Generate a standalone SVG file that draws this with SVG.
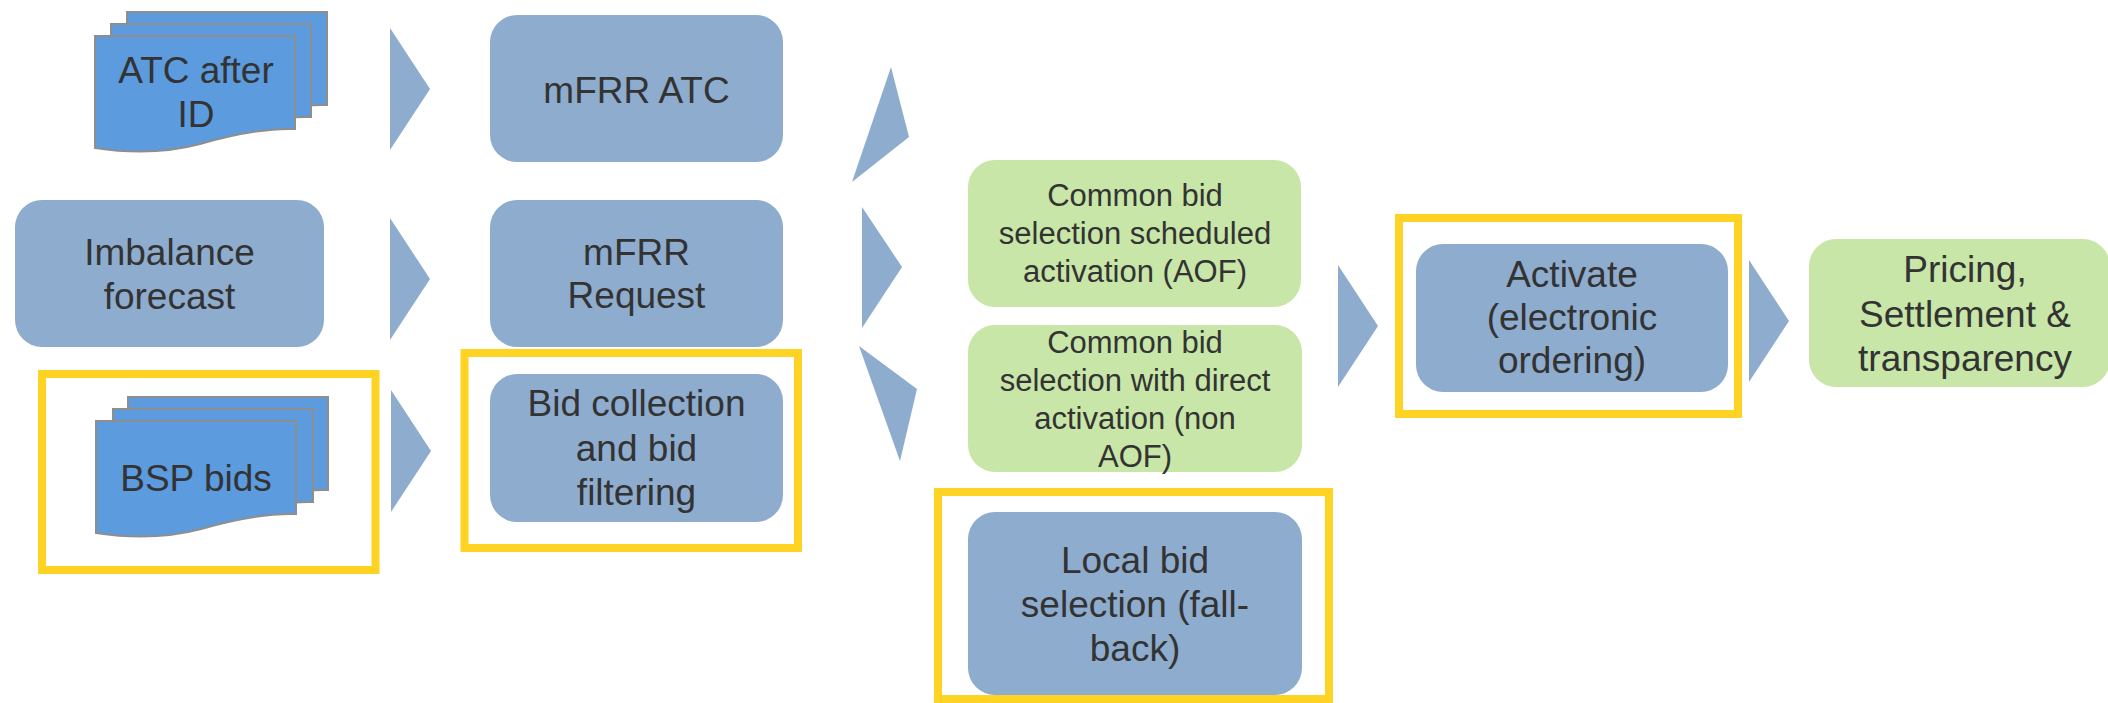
<svg xmlns="http://www.w3.org/2000/svg" width="2108" height="703" viewBox="0 0 2108 703">
<style>
.box{fill:#8EACCE}
.grn{fill:#C8E6A7}
.hl{fill:none;stroke:#FFD324;stroke-width:8}
.doc{fill:#5B9BDE;stroke:#8E8E8E;stroke-width:2}
.arr{fill:#8EACCE}
text{font-family:"Liberation Sans",Arial,sans-serif;fill:#333333;text-anchor:middle}
.t{font-size:37px}
.s{font-size:31px}
</style>
<defs>
<path id="docshape" d="M0,0 H200 V93 C170,92 140,98 105,108 C75,116 40,118 0,112 Z"/>
</defs>
<rect width="2108" height="703" fill="#FFFFFF"/>

<g id="highlights">
<rect class="hl" x="42" y="374" width="333.5" height="196"/>
<rect class="hl" x="464.5" y="353" width="333.5" height="195"/>
<rect class="hl" x="938" y="492" width="391" height="207"/>
<rect class="hl" x="1399" y="218" width="339" height="196"/>
</g>

<g id="atc-after-id">
<use href="#docshape" class="doc" x="127" y="12"/>
<use href="#docshape" class="doc" x="111" y="24"/>
<use href="#docshape" class="doc" x="95" y="36"/>
<text class="t" x="196" y="83">ATC after</text>
<text class="t" x="196" y="127">ID</text>
</g>

<g id="imbalance-forecast">
<rect class="box" x="15" y="200" width="309" height="147" rx="27"/>
<text class="t" x="169.5" y="265">Imbalance</text>
<text class="t" x="169.5" y="309">forecast</text>
</g>

<g id="bsp-bids">
<use href="#docshape" class="doc" x="128" y="397"/>
<use href="#docshape" class="doc" x="113" y="409"/>
<use href="#docshape" class="doc" x="96" y="421"/>
<text class="t" x="196" y="491">BSP bids</text>
</g>

<g id="mfrr-atc">
<rect class="box" x="490" y="15" width="293" height="147" rx="27"/>
<text class="t" x="636.5" y="103">mFRR ATC</text>
</g>

<g id="mfrr-request">
<rect class="box" x="490" y="200" width="293" height="147" rx="27"/>
<text class="t" x="636.5" y="265">mFRR</text>
<text class="t" x="636.5" y="308">Request</text>
</g>

<g id="bid-collection">
<rect class="box" x="490" y="374" width="293" height="148" rx="27"/>
<text class="t" x="636.5" y="416">Bid collection</text>
<text class="t" x="636.5" y="461">and bid</text>
<text class="t" x="636.5" y="505">filtering</text>
</g>

<g id="common-aof">
<rect class="grn" x="968" y="160" width="333" height="147" rx="27"/>
<text class="s" x="1135" y="206">Common bid</text>
<text class="s" x="1135" y="244">selection scheduled</text>
<text class="s" x="1135" y="282">activation (AOF)</text>
</g>

<g id="common-direct">
<rect class="grn" x="968" y="325" width="334" height="147" rx="27"/>
<text class="s" x="1135" y="353">Common bid</text>
<text class="s" x="1135" y="391">selection with direct</text>
<text class="s" x="1135" y="429">activation (non</text>
<text class="s" x="1135" y="467">AOF)</text>
</g>

<g id="local-bid-selection">
<rect class="box" x="968" y="512" width="334" height="183" rx="27"/>
<text class="t" x="1135" y="573">Local bid</text>
<text class="t" x="1135" y="617">selection (fall-</text>
<text class="t" x="1135" y="661">back)</text>
</g>

<g id="activate">
<rect class="box" x="1416" y="244" width="312" height="148" rx="27"/>
<text class="t" x="1572" y="287">Activate</text>
<text class="t" x="1572" y="330">(electronic</text>
<text class="t" x="1572" y="373">ordering)</text>
</g>

<g id="pricing">
<rect class="grn" x="1809" y="239" width="301" height="148" rx="27"/>
<text class="t" x="1965" y="282">Pricing,</text>
<text class="t" x="1965" y="327">Settlement &amp;</text>
<text class="t" x="1965" y="371">transparency</text>
</g>

<g id="connectors">
<polygon class="arr" points="390,28 430,89 390,150"/>
<polygon class="arr" points="390,218 430,279 390,340"/>
<polygon class="arr" points="391,390 431,451 391,512"/>
<polygon class="arr" points="891,67 909,137 852,182"/>
<polygon class="arr" points="862,207 902,267 862,328"/>
<polygon class="arr" points="859,346 917,389 900,461"/>
<polygon class="arr" points="1338,265 1378,326 1338,387"/>
<polygon class="arr" points="1749,260 1789,321 1749,382"/>
</g>
</svg>
